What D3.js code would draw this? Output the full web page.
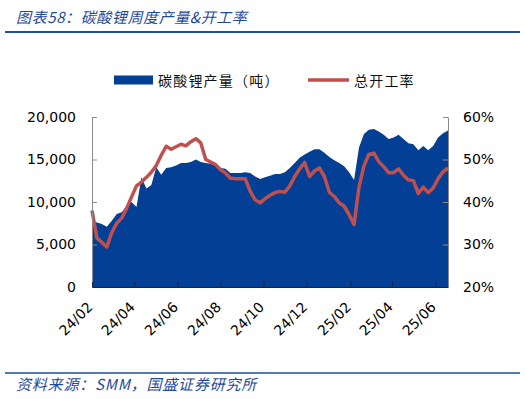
<!DOCTYPE html>
<html>
<head>
<meta charset="utf-8">
<script src="https://cdn.jsdelivr.net/npm/d3@7"></script>
<style>
	body { margin: 0; background: #fff; }
	svg { display: block; }
	.cn { font-family: "Noto Sans CJK SC", sans-serif; }
	.axis text { font-family: "DejaVu Sans", sans-serif; font-size: 14px; fill: #000; }
</style>
</head>
<body>
<div id="chart"></div>
<script>
// weekly dates (Thursdays)
var weeks = ["2024-02-01","2024-02-08","2024-02-15","2024-02-22","2024-02-29","2024-03-07","2024-03-14","2024-03-21","2024-03-28",
	"2024-04-04","2024-04-11","2024-04-18","2024-04-25","2024-05-02","2024-05-09","2024-05-16","2024-05-23","2024-05-30",
	"2024-06-06","2024-06-13","2024-06-20","2024-06-27","2024-07-04","2024-07-11","2024-07-18","2024-07-25",
	"2024-08-01","2024-08-08","2024-08-15","2024-08-22","2024-08-29","2024-09-05","2024-09-12","2024-09-19","2024-09-26",
	"2024-10-03","2024-10-10","2024-10-17","2024-10-24","2024-10-31","2024-11-07","2024-11-14","2024-11-21","2024-11-28",
	"2024-12-05","2024-12-12","2024-12-19","2024-12-26","2025-01-02","2025-01-09","2025-01-16","2025-01-23","2025-01-30",
	"2025-02-06","2025-02-13","2025-02-20","2025-02-27","2025-03-06","2025-03-13","2025-03-20","2025-03-27",
	"2025-04-03","2025-04-10","2025-04-17","2025-04-24","2025-05-01","2025-05-08","2025-05-15","2025-05-22","2025-05-29",
	"2025-06-05","2025-06-12","2025-06-19"];

// 碳酸锂产量（吨）
var production = [7800,7600,7400,7100,7800,8600,8800,9500,10000,9400,
	12900,11600,12000,14100,13200,14000,14100,14300,14600,14600,
	14700,15000,14700,14600,14500,14200,14000,13900,13400,13400,
	13400,13500,13400,13000,12700,12900,13100,13300,13300,13500,
	14000,14600,15200,15600,15900,16200,16200,15800,15300,14900,
	14600,14200,13500,12600,16400,18000,18500,18600,18300,17900,
	17400,17600,17900,17400,16900,16800,16100,16600,16100,16600,
	17600,18100,18400];

// 总开工率 (%)
var utilization = [38.0,31.5,30.5,29.4,32.8,35.0,36.2,38.5,41.2,43.8,
	44.7,45.8,47.0,48.6,51.0,53.1,52.4,53.0,53.6,53.2,
	54.2,54.9,53.9,50.0,49.4,48.8,47.6,46.8,45.6,45.5,
	45.5,45.5,42.5,40.5,39.8,40.8,41.6,42.2,42.5,42.3,
	43.8,46.0,47.8,49.3,46.0,47.3,48.0,46.0,42.3,41.3,
	39.8,39.0,37.0,34.7,43.5,48.5,51.2,51.5,49.5,48.3,
	46.9,46.9,47.8,46.3,45.2,45.0,42.0,43.5,42.2,43.3,
	45.5,47.1,48.0];

var xTicks = ["2024-02-01","2024-04-01","2024-06-01","2024-08-01","2024-10-01","2024-12-01","2025-02-01","2025-04-01","2025-06-01"];
var leftTicks = [0, 5000, 10000, 15000, 20000];
var rightTicks = [20, 30, 40, 50, 60];

var seriesNames = ["碳酸锂产量（吨）", "总开工率"];
var title = "图表58：碳酸锂周度产量&开工率";
var source = "资料来源：SMM，国盛证券研究所";

function comboChart() {
	comboChart.prototype.init = function(options) {
		this.margin = options.margin;
		this.width = options.width - this.margin.left - this.margin.right;
		this.height = options.height - this.margin.top - this.margin.bottom;

		var parse = d3.timeParse("%Y-%m-%d");
		this.data = weeks.map(function(d, i) {
			return {date: parse(d), prod: production[i], rate: utilization[i]};
		});
		this.ticks = xTicks.map(parse);

		this.x = d3.scaleTime().range([0, this.width])
			.domain(d3.extent(this.data, function(d) { return d.date; }));
		this.y = d3.scaleLinear().range([this.height, 0]).domain([0, 20000]);
		this.y2 = d3.scaleLinear().range([this.height, 0]).domain([20, 60]);

		this.svg = d3.select(options.select)
			.append("svg")
				.attr("width", options.width)
				.attr("height", options.height);

		this.g = this.svg.append("g")
			.attr("transform", "translate(" + this.margin.left + "," + this.margin.top + ")");
	}

	comboChart.prototype.draw = function() {
		var svg = this.svg, g = this.g;
		var x = this.x, y = this.y, y2 = this.y2;
		var height = this.height, width = this.width;

		// title + rules
		svg.append("text")
			.attr("class", "cn")
			.attr("x", 16).attr("y", 23)
			.attr("font-size", 15).attr("font-style", "italic")
			.attr("letter-spacing", 0.6)
			.attr("fill", "#1F4A99")
			.text(title);
		svg.append("line")
			.attr("x1", 5).attr("x2", 520).attr("y1", 32).attr("y2", 32)
			.attr("stroke", "#1F4E9E").attr("stroke-width", 2);
		svg.append("line")
			.attr("x1", 5).attr("x2", 520).attr("y1", 373).attr("y2", 373)
			.attr("stroke", "#1F4E9E").attr("stroke-width", 1.5);
		svg.append("text")
			.attr("class", "cn")
			.attr("x", 16).attr("y", 390)
			.attr("font-size", 15).attr("font-style", "italic")
			.attr("letter-spacing", 0.8)
			.attr("fill", "#1F4A99")
			.text(source);

		// legend
		var lg = svg.append("g").attr("class", "cn");
		lg.append("rect")
			.attr("x", 114).attr("y", 75.5).attr("width", 39).attr("height", 9)
			.attr("fill", "#033F95");
		lg.append("text")
			.attr("x", 158).attr("y", 86)
			.attr("font-size", 14).attr("letter-spacing", 1.2).attr("fill", "#111")
			.text(seriesNames[0]);
		lg.append("line")
			.attr("x1", 308).attr("x2", 349).attr("y1", 80).attr("y2", 80)
			.attr("stroke", "#C0504D").attr("stroke-width", 3.5);
		lg.append("text")
			.attr("x", 354).attr("y", 86)
			.attr("font-size", 14).attr("letter-spacing", 1.2).attr("fill", "#111")
			.text(seriesNames[1]);

		var area = d3.area()
			.x(function(d) { return x(d.date); })
			.y0(height)
			.y1(function(d) { return y(d.prod); });

		g.append("path")
			.datum(this.data)
			.attr("fill", "#033F95")
			.attr("d", area);

		var line = d3.line()
			.x(function(d) { return x(d.date); })
			.y(function(d) { return y2(d.rate); });

		g.append("path")
			.datum(this.data)
			.attr("fill", "none")
			.attr("stroke", "#C0504D")
			.attr("stroke-width", 3.5)
			.attr("stroke-linejoin", "round")
			.attr("d", line);

		var yAxis = d3.axisLeft(y)
			.tickValues(leftTicks)
			.tickSizeInner(-5).tickSizeOuter(0)
			.tickPadding(16)
			.tickFormat(d3.format(","));
		var ya = g.append("g")
			.attr("class", "y axis")
			.call(yAxis);
		ya.select(".domain").attr("stroke", "#8a8a8a");
		ya.selectAll(".tick line").attr("stroke", "#8a8a8a");

		var y2Axis = d3.axisRight(y2)
			.tickValues(rightTicks)
			.tickSizeInner(-5).tickSizeOuter(0)
			.tickPadding(15)
			.tickFormat(function(d) { return d + "%"; });
		var ya2 = g.append("g")
			.attr("class", "y2 axis")
			.attr("transform", "translate(" + width + ",0)")
			.call(y2Axis);
		ya2.select(".domain").attr("stroke", "#8a8a8a");
		ya2.selectAll(".tick line").attr("stroke", "#8a8a8a");

		var xAxis = d3.axisBottom(x)
			.tickValues(this.ticks)
			.tickSizeInner(-5).tickSizeOuter(0)
			.tickFormat(d3.timeFormat("%y/%m"));
		var xa = g.append("g")
			.attr("class", "x axis")
			.attr("transform", "translate(0," + height + ")")
			.call(xAxis);
		xa.select(".domain").attr("stroke", "#1b2340");
		xa.selectAll(".tick line").attr("stroke", "#1b2340");
		xa.selectAll(".tick text")
			.attr("text-anchor", "end")
			.attr("dy", 0)
			.attr("y", 0)
			.attr("transform", "translate(1,21) rotate(-45)");
	}
}

var chart = new comboChart();
chart.init({
	select: "#chart",
	width: 525,
	height: 399,
	margin: {top: 117, right: 77, bottom: 112, left: 92}
});
chart.draw();
</script>
</body>
</html>
